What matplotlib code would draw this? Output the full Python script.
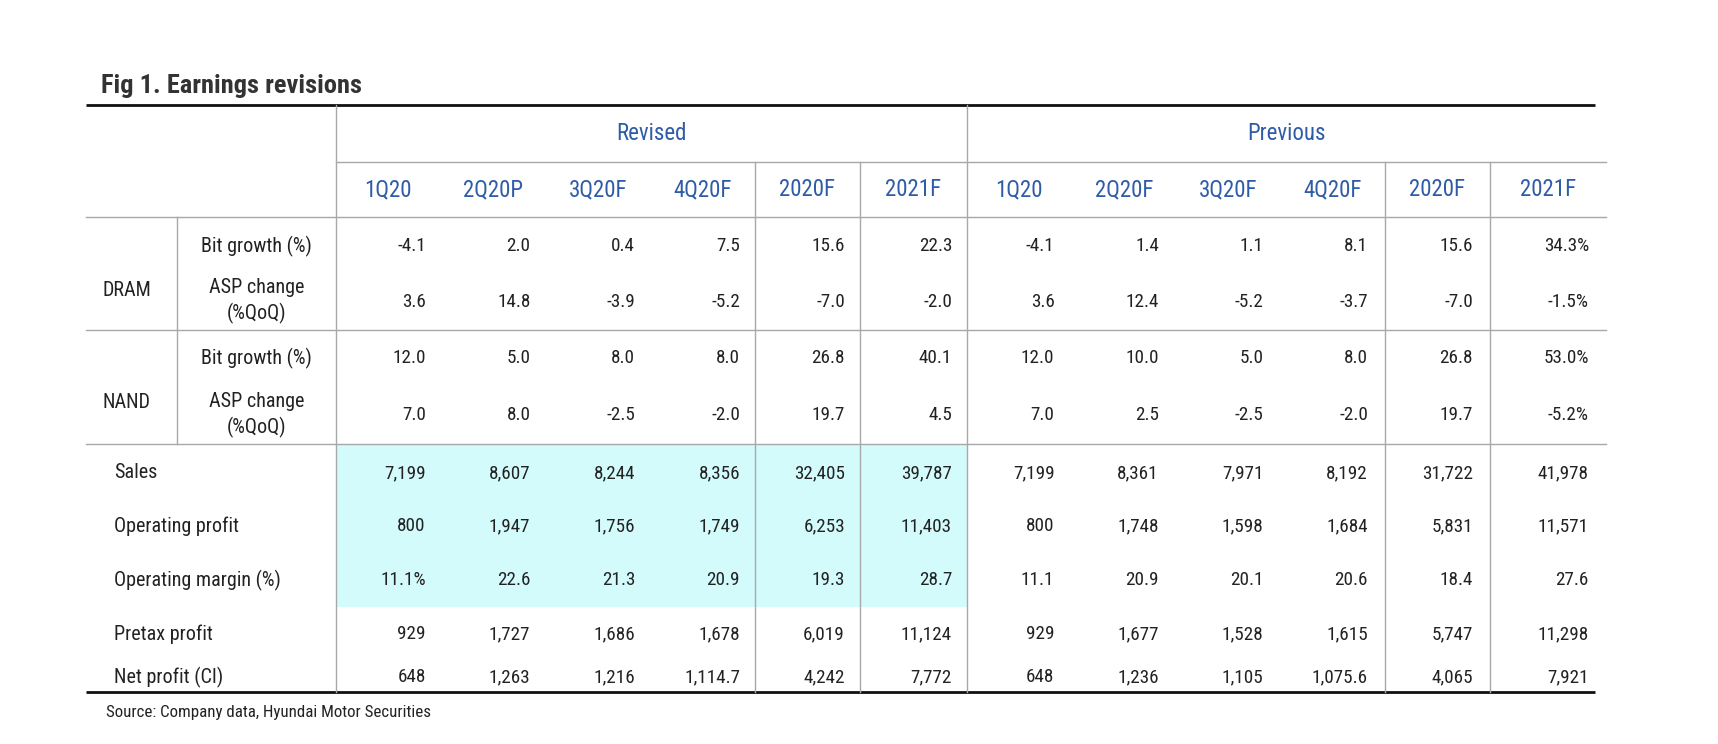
import matplotlib
matplotlib.use("Agg")
import matplotlib.pyplot as plt
from matplotlib import font_manager

# table data
col_rev = ["1Q20", "2Q20P", "3Q20F", "4Q20F", "2020F", "2021F"]
col_prev = ["1Q20", "2Q20F", "3Q20F", "4Q20F", "2020F", "2021F"]

dram_bit_rev = ["-4.1", "2.0", "0.4", "7.5", "15.6", "22.3"]
dram_bit_prev = ["-4.1", "1.4", "1.1", "8.1", "15.6", "34.3%"]
dram_asp_rev = ["3.6", "14.8", "-3.9", "-5.2", "-7.0", "-2.0"]
dram_asp_prev = ["3.6", "12.4", "-5.2", "-3.7", "-7.0", "-1.5%"]
nand_bit_rev = ["12.0", "5.0", "8.0", "8.0", "26.8", "40.1"]
nand_bit_prev = ["12.0", "10.0", "5.0", "8.0", "26.8", "53.0%"]
nand_asp_rev = ["7.0", "8.0", "-2.5", "-2.0", "19.7", "4.5"]
nand_asp_prev = ["7.0", "2.5", "-2.5", "-2.0", "19.7", "-5.2%"]

sales_rev = ["7,199", "8,607", "8,244", "8,356", "32,405", "39,787"]
sales_prev = ["7,199", "8,361", "7,971", "8,192", "31,722", "41,978"]
op_rev = ["800", "1,947", "1,756", "1,749", "6,253", "11,403"]
op_prev = ["800", "1,748", "1,598", "1,684", "5,831", "11,571"]
opm_rev = ["11.1%", "22.6", "21.3", "20.9", "19.3", "28.7"]
opm_prev = ["11.1", "20.9", "20.1", "20.6", "18.4", "27.6"]
pretax_rev = ["929", "1,727", "1,686", "1,678", "6,019", "11,124"]
pretax_prev = ["929", "1,677", "1,528", "1,615", "5,747", "11,298"]
net_rev = ["648", "1,263", "1,216", "1,114.7", "4,242", "7,772"]
net_prev = ["648", "1,236", "1,105", "1,075.6", "4,065", "7,921"]

# pick a narrow font if one is there
names = {f.name for f in font_manager.fontManager.ttflist}
narrow = None
for n in ["Roboto Condensed", "Liberation Sans Narrow", "Open Sans Condensed"]:
    if n in names:
        narrow = n
        break
fam = [narrow, "DejaVu Sans"] if narrow else ["DejaVu Sans"]
plt.rcParams["font.family"] = fam
plt.rcParams["font.stretch"] = "condensed"

BLUE = "#2f5ca6"
GRID = "#a8a8a8"
TXT = "#222222"

fig = plt.figure(figsize=(17.18, 7.44), dpi=100, facecolor="white")
ax = fig.add_axes([0, 0, 1, 1])
ax.set_xlim(0, 1718)
ax.set_ylim(744, 0)
ax.axis("off")

# layout (pixels)
left, lab_split, data_left, mid, right = 86, 177, 336, 967, 1606
rev_edges = [336, 440.75, 545.5, 650.25, 755, 860, 967]
prev_edges = [967, 1071.5, 1176, 1280.5, 1385, 1490, 1606]
y_top, y_grp, y_head, y_dn, y_ns, y_hl, y_bot = 105, 162, 217, 330, 444, 607, 692

# highlight block
ax.add_patch(plt.Rectangle((data_left, y_ns), mid - data_left, y_hl - y_ns,
                           facecolor="#d4fbfc", edgecolor="none", zorder=0))

# lines
ax.plot([left, 1595], [y_top, y_top], color="#111111", lw=2.0, solid_capstyle="butt")
ax.plot([left, 1595], [y_bot, y_bot], color="#111111", lw=2.0, solid_capstyle="butt")
ax.plot([data_left, right], [y_grp, y_grp], color=GRID, lw=1.0)
for yy in [y_head, y_dn, y_ns]:
    ax.plot([left, right], [yy, yy], color=GRID, lw=1.0)
ax.plot([data_left, data_left], [y_top, y_bot], color=GRID, lw=1.0)
ax.plot([mid, mid], [y_top, y_bot], color=GRID, lw=1.0)
ax.plot([lab_split, lab_split], [y_head, y_ns], color=GRID, lw=1.0)
for xx in [rev_edges[4], rev_edges[5], prev_edges[4], prev_edges[5]]:
    ax.plot([xx, xx], [y_grp, y_bot], color=GRID, lw=1.0)

# title / source
ax.text(101, 93, "Fig 1. Earnings revisions", fontsize=19, fontweight="bold",
        color="#333333", ha="left", va="baseline")
ax.text(106, 713, "Source: Company data, Hyundai Motor Securities", fontsize=12.2,
        color=TXT, ha="left", va="center")

# header
hfs = 16.5
ax.text((data_left + mid) / 2, 134, "Revised", fontsize=hfs, color=BLUE, ha="center", va="center")
ax.text((mid + right) / 2, 134, "Previous", fontsize=hfs, color=BLUE, ha="center", va="center")
for i, c in enumerate(col_rev):
    ax.text((rev_edges[i] + rev_edges[i + 1]) / 2, 190, c, fontsize=hfs, color=BLUE,
            ha="center", va="center")
for i, c in enumerate(col_prev):
    ax.text((prev_edges[i] + prev_edges[i + 1]) / 2, 190, c, fontsize=hfs, color=BLUE,
            ha="center", va="center")

# row labels
fs = 14.5
nfs = 13.8
lab_c = (lab_split + data_left) / 2
ax.text(103, 290, "DRAM", fontsize=fs, color=TXT, ha="left", va="center")
ax.text(103, 403, "NAND", fontsize=fs, color=TXT, ha="left", va="center")
ax.text(lab_c, 246, "Bit growth (%)", fontsize=fs, color=TXT, ha="center", va="center")
ax.text(lab_c, 301, "ASP change\n(%QoQ)", fontsize=fs, color=TXT, ha="center", va="center",
        linespacing=1.4)
ax.text(lab_c, 358, "Bit growth (%)", fontsize=fs, color=TXT, ha="center", va="center")
ax.text(lab_c, 415, "ASP change\n(%QoQ)", fontsize=fs, color=TXT, ha="center", va="center",
        linespacing=1.4)
fin_labels = ["Sales", "Operating profit", "Operating margin (%)", "Pretax profit", "Net profit (CI)"]
fin_y = [473, 526, 580, 634, 677]
for lab, yy in zip(fin_labels, fin_y):
    ax.text(114, yy, lab, fontsize=fs, color=TXT, ha="left", va="center")

# values
rows = [
    (246, dram_bit_rev, dram_bit_prev),
    (302, dram_asp_rev, dram_asp_prev),
    (358, nand_bit_rev, nand_bit_prev),
    (415, nand_asp_rev, nand_asp_prev),
    (473, sales_rev, sales_prev),
    (526, op_rev, op_prev),
    (580, opm_rev, opm_prev),
    (634, pretax_rev, pretax_prev),
    (677, net_rev, net_prev),
]
for yy, rv, pv in rows:
    for i, v in enumerate(rv):
        ax.text(rev_edges[i + 1] - 15, yy, v, fontsize=nfs, color=TXT, ha="right", va="center")
    for i, v in enumerate(pv):
        ax.text(prev_edges[i + 1] - 17, yy, v, fontsize=nfs, color=TXT, ha="right", va="center")

fig.savefig("out.png", dpi=100, facecolor="white")
